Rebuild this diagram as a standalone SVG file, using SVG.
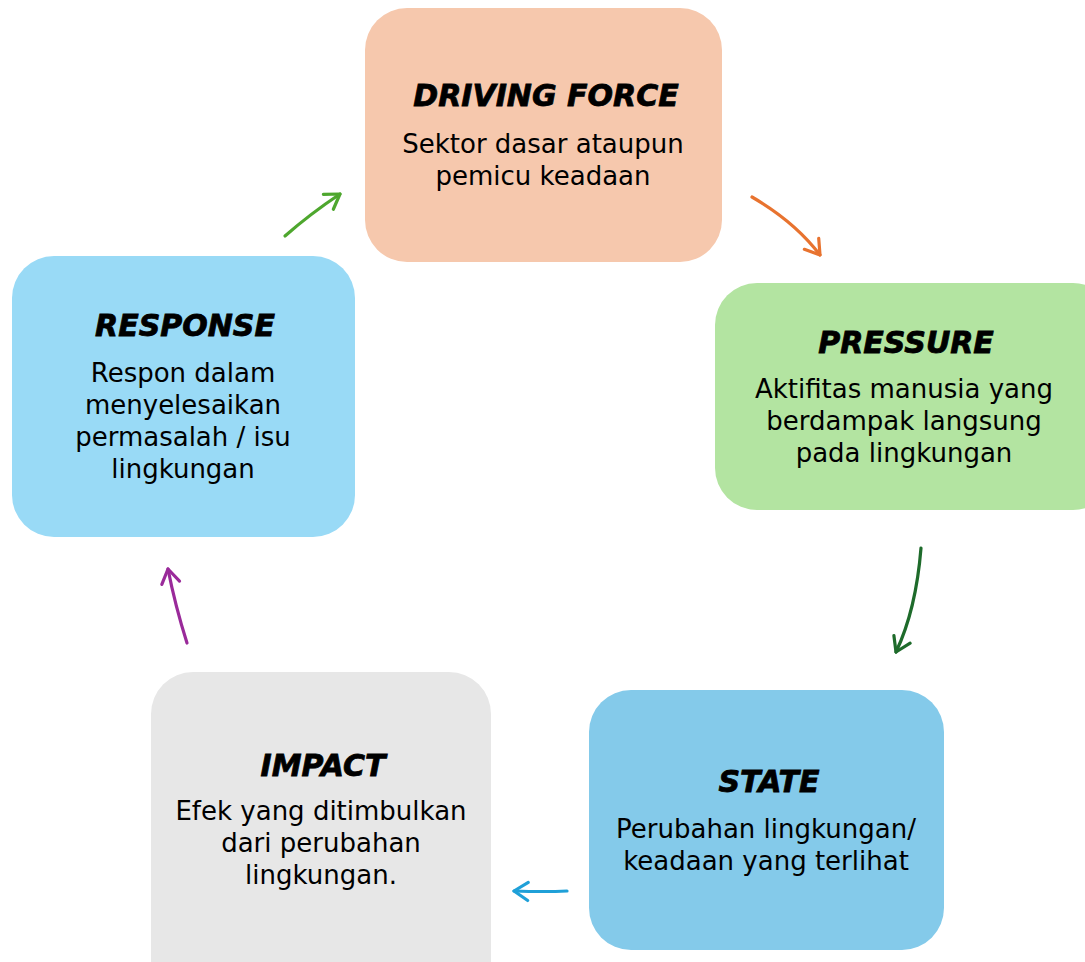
<svg xmlns="http://www.w3.org/2000/svg" width="1085" height="962" viewBox="0 0 1085 962">
<style>
.t{font-family:"DejaVu Sans",Verdana,sans-serif;font-size:26px;fill:#000;text-anchor:middle}
.h{font-family:"DejaVu Sans",Verdana,sans-serif;font-size:30px;font-weight:bold;font-style:italic;fill:#000;stroke:#000;stroke-width:0.8;text-anchor:middle}
.c{fill:none;stroke-width:3.2;stroke-linecap:round}
</style>
<defs>
<marker id="mg" viewBox="0 0 24 24" refX="19" refY="12" markerWidth="24" markerHeight="24" markerUnits="userSpaceOnUse" orient="auto"><path d="M5 3 L19 12 L5 21" fill="none" stroke="#4EA72E" stroke-width="3.2" stroke-linecap="round" stroke-linejoin="round"/></marker>
<marker id="mo" viewBox="0 0 24 24" refX="19" refY="12" markerWidth="24" markerHeight="24" markerUnits="userSpaceOnUse" orient="auto"><path d="M5 3 L19 12 L5 21" fill="none" stroke="#E8732F" stroke-width="3.2" stroke-linecap="round" stroke-linejoin="round"/></marker>
<marker id="md" viewBox="0 0 24 24" refX="19" refY="12" markerWidth="24" markerHeight="24" markerUnits="userSpaceOnUse" orient="auto"><path d="M5 3 L19 12 L5 21" fill="none" stroke="#1E6B2B" stroke-width="3.2" stroke-linecap="round" stroke-linejoin="round"/></marker>
<marker id="mb" viewBox="0 0 24 24" refX="19" refY="12" markerWidth="24" markerHeight="24" markerUnits="userSpaceOnUse" orient="auto"><path d="M5 3 L19 12 L5 21" fill="none" stroke="#1FA0D8" stroke-width="3.2" stroke-linecap="round" stroke-linejoin="round"/></marker>
<marker id="mp" viewBox="0 0 24 24" refX="19" refY="12" markerWidth="24" markerHeight="24" markerUnits="userSpaceOnUse" orient="auto"><path d="M5 3 L19 12 L5 21" fill="none" stroke="#9A2A9A" stroke-width="3.2" stroke-linecap="round" stroke-linejoin="round"/></marker>
</defs>
<rect width="1085" height="962" fill="#fff"/>
<g id="driving-force">
<rect x="365" y="8" width="357" height="254" rx="42" fill="#F6C8AD"/>
<text class="h" x="546" y="106">DRIVING FORCE</text>
<text class="t" x="543" y="153">Sektor dasar ataupun</text>
<text class="t" x="543" y="185">pemicu keadaan</text>
</g>
<g id="pressure">
<rect x="715" y="283" width="400" height="227" rx="42" fill="#B3E4A1"/>
<text class="h" x="906" y="353">PRESSURE</text>
<text class="t" x="904" y="398">Aktifitas manusia yang</text>
<text class="t" x="904" y="430">berdampak langsung</text>
<text class="t" x="904" y="462">pada lingkungan</text>
</g>
<g id="state">
<rect x="589" y="690" width="355" height="260" rx="42" fill="#84CAEA"/>
<text class="h" x="769" y="792">STATE</text>
<text class="t" x="766" y="838">Perubahan lingkungan/</text>
<text class="t" x="766" y="870">keadaan yang terlihat</text>
</g>
<g id="impact">
<rect x="151" y="672" width="340" height="330" rx="42" fill="#E7E7E7"/>
<text class="h" x="323" y="776">IMPACT</text>
<text class="t" x="321" y="820">Efek yang ditimbulkan</text>
<text class="t" x="321" y="852">dari perubahan</text>
<text class="t" x="321" y="884">lingkungan.</text>
</g>
<g id="response">
<rect x="12" y="256" width="343" height="281" rx="42" fill="#99DAF6"/>
<text class="h" x="185" y="336">RESPONSE</text>
<text class="t" x="183" y="382">Respon dalam</text>
<text class="t" x="183" y="414">menyelesaikan</text>
<text class="t" x="183" y="446">permasalah / isu</text>
<text class="t" x="183" y="478">lingkungan</text>
</g>
<g id="connectors">
<path class="c" stroke="#4EA72E" d="M285 236 Q310 214 340 194" marker-end="url(#mg)"/>
<path class="c" stroke="#E8732F" d="M752 197 Q795 222 820 255" marker-end="url(#mo)"/>
<path class="c" stroke="#1E6B2B" d="M921 548 Q916 610 896 652" marker-end="url(#md)"/>
<path class="c" stroke="#1FA0D8" d="M567 891 Q545 892 514 891" marker-end="url(#mb)"/>
<path class="c" stroke="#9A2A9A" d="M187 643 Q175 605 168 569" marker-end="url(#mp)"/>
</g>
</svg>
